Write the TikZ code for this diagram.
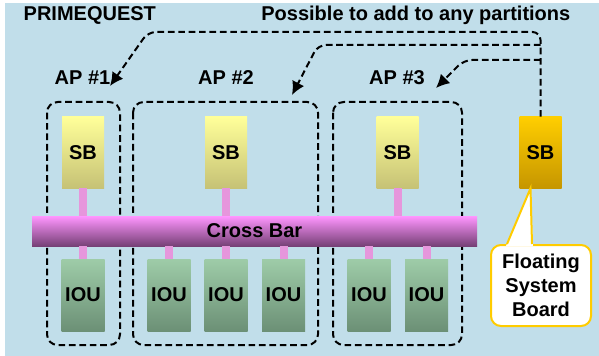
\documentclass[tikz,border=0pt]{standalone}
\usepackage{fontspec}
\setmainfont{Liberation Sans}
\usetikzlibrary{arrows.meta,calc}

\definecolor{bgblue}{RGB}{193,222,234}
\definecolor{sbtop}{RGB}{255,255,153}
\definecolor{sbbot}{RGB}{198,194,118}
\definecolor{fsbtop}{RGB}{255,206,0}
\definecolor{fsbbot}{RGB}{198,150,0}
\definecolor{ioutop}{RGB}{158,204,168}
\definecolor{ioubot}{RGB}{108,144,118}
\definecolor{xbtop}{RGB}{255,150,255}
\definecolor{xbmid}{RGB}{222,128,222}
\definecolor{xbbot}{RGB}{118,64,118}
\definecolor{linkpink}{RGB}{230,150,220}
\definecolor{noteyellow}{RGB}{255,204,0}

\begin{document}
\begin{tikzpicture}[x=0.75pt,y=-0.75pt,
  every node/.style={font=\bfseries\fontsize{15}{18}\selectfont},
  sbbox/.style={minimum width=31.5pt,minimum height=53.25pt,inner sep=0pt,top color=sbtop,bottom color=sbbot},
  ioubox/.style={minimum width=32.25pt,minimum height=54pt,inner sep=0pt,top color=ioutop,bottom color=ioubot},
  partbox/.style={line width=1.5pt,dash pattern=on 5pt off 2.8pt,rounded corners=8pt},
  link/.style={linkpink,line width=6pt},
  flow/.style={line width=1.5pt,dash pattern=on 5pt off 2.8pt,rounded corners=6pt,-{Latex[length=10pt,width=10pt]}},
  noteline/.style={noteyellow,line width=1.5pt}]

  % Frame
  \useasboundingbox (0,0) rectangle (599,356);
  \fill[bgblue] (5,3) rectangle (599,356);

  % Titles
  \node[anchor=west] (title) at (19,15) {PRIMEQUEST};
  \node[anchor=east] (hint) at (575,15) {Possible to add to any partitions};

  % Partitions
  \draw[partbox] (47,102) rectangle (120,345);
  \draw[partbox] (133,102) rectangle (318,345);
  \draw[partbox] (333,102) rectangle (462,345);
  \node (ap1) at (82.5,78) {AP \#1};
  \node (ap2) at (226,78) {AP \#2};
  \node (ap3) at (397,78) {AP \#3};

  % System boards
  \node[sbbox] (sb1) at (83,152.5) {SB};
  \node[sbbox] (sb2) at (226,152.5) {SB};
  \node[sbbox] (sb3) at (397.5,152.5) {SB};
  \node[sbbox,top color=fsbtop,bottom color=fsbbot] (fsb) at (540.5,152.5) {SB};

  % IO units
  \node[ioubox] (iou1) at (83,295) {IOU};
  \node[ioubox] (iou2) at (169,295) {IOU};
  \node[ioubox] (iou3) at (226,295) {IOU};
  \node[ioubox] (iou4) at (283.5,295) {IOU};
  \node[ioubox] (iou5) at (369,295) {IOU};
  \node[ioubox] (iou6) at (426.5,295) {IOU};

  % Cross bar
  \node[minimum width=333.75pt,minimum height=22.5pt,inner sep=0pt,
    top color=xbtop,middle color=xbmid,bottom color=xbbot] (xbar) at (254.5,231) {Cross Bar};

  % Links
  \draw[link] (sb1) -- (sb1 |- xbar.north);
  \draw[link] (sb2) -- (sb2 |- xbar.north);
  \draw[link] (sb3) -- (sb3 |- xbar.north);
  \draw[link] (iou1) -- (iou1 |- xbar.south);
  \draw[link] (iou2) -- (iou2 |- xbar.south);
  \draw[link] (iou3) -- (iou3 |- xbar.south);
  \draw[link] (iou4) -- (iou4 |- xbar.south);
  \draw[link] (iou5) -- (iou5 |- xbar.south);
  \draw[link] (iou6) -- (iou6 |- xbar.south);

  % Floating board note
  \node[draw=noteyellow,line width=1.5pt,fill=white,rounded corners=7.5pt,align=center,
    minimum width=75pt,minimum height=60.75pt,inner sep=0pt] (fsbnote) at (541,285.5) {Floating\\System\\Board};
  \fill[white] ($(fsb.south)+(-10,0)$) -- ($(fsbnote.north)+(-35,2)$) -- ($(fsbnote.north)+(-8,2)$) -- cycle;
  \draw[noteline] ($(fsbnote.north)+(-34,0)$) -- ($(fsb.south)+(-10,0)$) -- ($(fsbnote.north)+(-9,0)$);

  % Moves to the partitions
  \coordinate (ap1in) at (110,86);
  \coordinate (ap2in) at (292,95);
  \coordinate (ap3in) at (436,88);
  \draw[flow] (fsb.north) -- (fsb.north |- 0,32) -- (148,32) -- (ap1in);
  \draw[flow] (fsb.north |- 0,45) -- (318,45) -- (ap2in);
  \draw[flow] (fsb.north |- 0,60) -- (464,60) -- (ap3in);

\end{tikzpicture}
\end{document}
